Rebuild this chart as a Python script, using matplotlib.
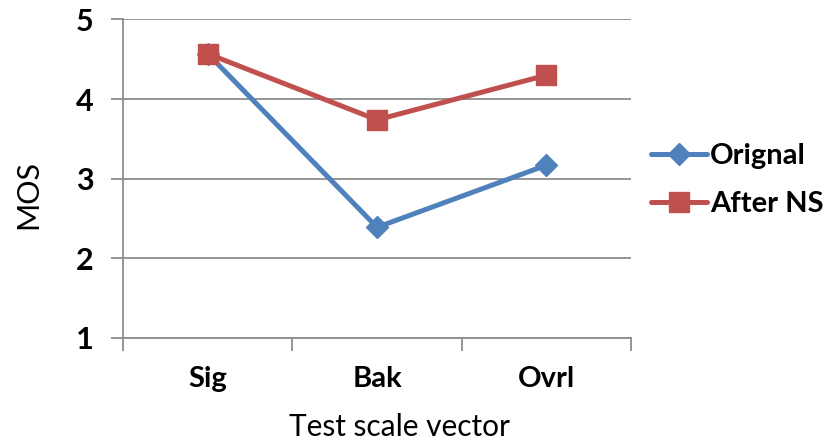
import matplotlib
matplotlib.use("Agg")
import matplotlib.pyplot as plt

categories = ["Sig", "Bak", "Ovrl"]
original = [4.57, 2.39, 3.17]
after_ns = [4.57, 3.74, 4.30]
yticks = [1, 2, 3, 4, 5]

plt.rcParams['font.family'] = ['Lato', 'DejaVu Sans']

fig = plt.figure(figsize=(8.33, 4.41), dpi=100)
ax = fig.add_axes([0.1477, 0.2336, 0.7575 - 0.1477, 0.9558 - 0.2336])

x = list(range(len(categories)))
grid_c = "#8c8c8c"
ax.plot(x, original, color="#4F81BD", lw=3.6, marker="D", markersize=11,
        label="Orignal", zorder=3, solid_capstyle="round")
ax.plot(x, after_ns, color="#C0504D", lw=3.6, marker="s", markersize=14,
        label="After NS", zorder=4, solid_capstyle="round")

ax.set_xlim(-0.5, len(categories) - 0.5)
ax.set_ylim(1, 5)
ax.set_yticks(yticks)
ax.set_yticklabels([str(t) for t in yticks], fontsize=22, fontweight="bold")
ax.yaxis.grid(True, color=grid_c, lw=1.3)
ax.set_axisbelow(True)

ax.set_xticks(x)
ax.set_xticklabels(categories, fontsize=21, fontweight="bold")
ax.tick_params(axis="x", length=0, pad=20)
ax.set_xticks([i - 0.5 for i in range(len(categories) + 1)], minor=True)
ax.tick_params(axis="x", which="minor", length=9, width=1.3, color=grid_c, direction="out")
ax.tick_params(axis="y", length=9, width=1.3, color=grid_c, pad=12)

for s in ["top", "right"]:
    ax.spines[s].set_visible(False)
for s in ["left", "bottom"]:
    ax.spines[s].set_color(grid_c)
    ax.spines[s].set_linewidth(1.3)

ax.set_ylabel("MOS", fontsize=22)
ax.yaxis.set_label_coords(-0.16, 0.452)
ax.set_xlabel("Test scale vector", fontsize=21.5)
ax.xaxis.set_label_coords(0.545, -0.235)

fig.legend(loc="center left", bbox_to_anchor=(0.768, 0.592), frameon=False,
           prop={"size": 21, "weight": "bold"}, handlelength=1.9,
           handletextpad=0.1, labelspacing=0.75, borderaxespad=0)

fig.savefig("out.png", dpi=100)
